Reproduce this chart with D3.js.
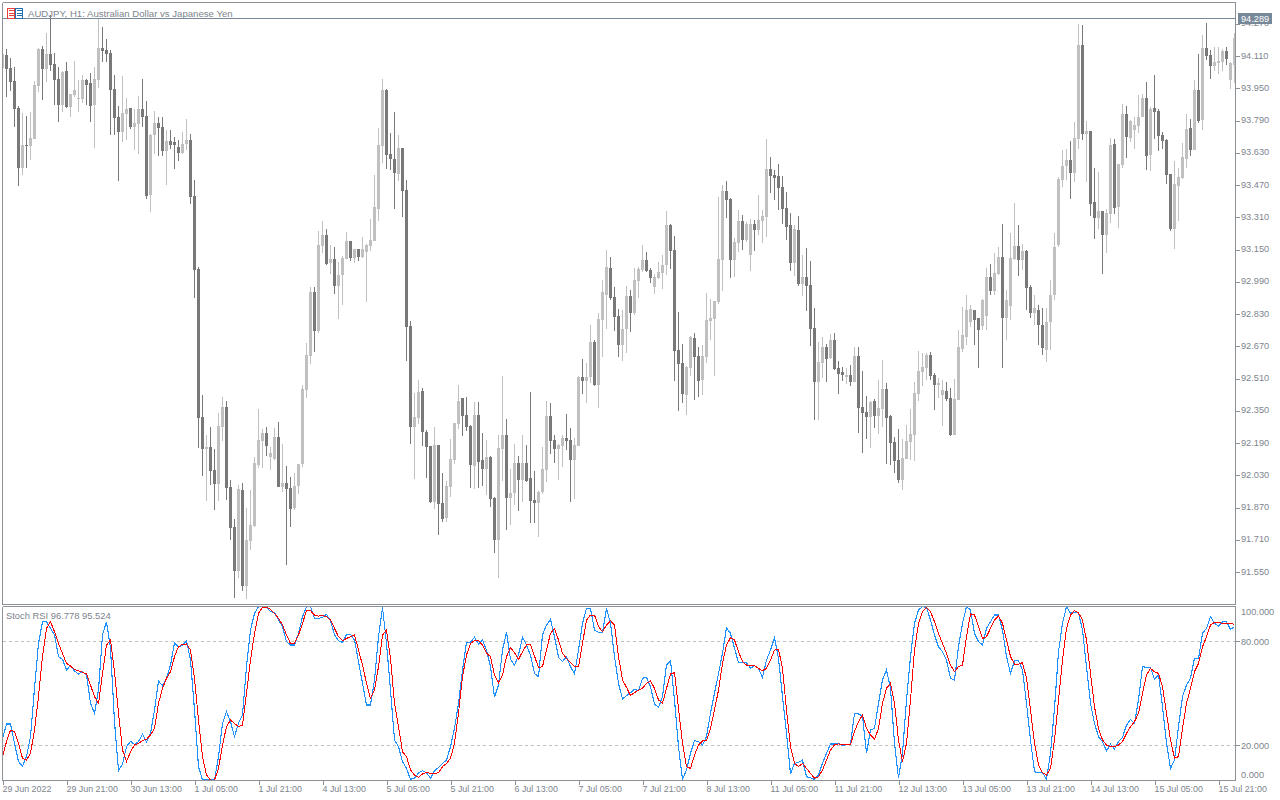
<!DOCTYPE html>
<html>
<head>
<meta charset="utf-8">
<script src="https://cdnjs.cloudflare.com/ajax/libs/d3/7.8.5/d3.min.js"></script>
<style>
html,body{margin:0;padding:0;background:#fff;}
svg{display:block;}
text{font-family:"Liberation Sans",sans-serif;font-size:9.4px;fill:#7d848c;}
</style>
</head>
<body>
<svg id="chart" width="1280" height="800"></svg>
<script>
const titleText = "AUDJPY, H1:  Australian Dollar vs Japanese Yen";
const lastPrice = 94.289;
const stochLegend = "Stoch RSI 96.778 95.524";
const priceTicks = [94.270,94.110,93.950,93.790,93.630,93.470,93.310,93.150,92.990,92.830,92.670,92.510,92.350,92.190,92.030,91.870,91.710,91.550];
const stochTicks = [80,20];
const stochEdgeLabels = [100,0];
const timeLabels = ["29 Jun 2022","29 Jun 21:00","30 Jun 13:00","1 Jul 05:00","1 Jul 21:00","4 Jul 13:00","5 Jul 05:00","5 Jul 21:00","6 Jul 13:00","7 Jul 05:00","7 Jul 21:00","8 Jul 13:00","11 Jul 05:00","11 Jul 21:00","12 Jul 13:00","13 Jul 05:00","13 Jul 21:00","14 Jul 13:00","15 Jul 05:00","15 Jul 21:00"];

const opens = [
94.051,94.115,94.051,93.986,93.852,93.555,93.669,93.664,93.699,93.961,
94.145,94.046,94.120,94.071,93.996,93.867,94.036,93.857,93.917,93.897,
93.897,93.991,93.976,93.867,93.991,94.150,94.140,94.125,93.947,93.808,
93.733,93.823,93.852,93.758,93.773,93.847,93.813,93.421,93.718,93.778,
93.758,93.639,93.689,93.684,93.659,93.629,93.674,93.694,93.416,93.054,
92.320,92.161,92.171,92.057,91.987,92.270,92.369,91.973,91.774,91.556,
91.958,91.482,91.705,91.779,92.082,92.201,92.240,92.121,92.111,92.221,
91.973,91.992,91.968,91.868,91.977,92.087,92.454,92.622,92.940,92.746,
93.168,93.222,93.084,93.103,92.970,93.024,93.103,93.193,93.108,93.153,
93.113,93.138,93.168,93.193,93.351,93.664,93.942,93.624,93.599,93.525,
93.654,93.446,92.771,92.270,92.315,92.449,92.245,92.176,91.898,92.181,
91.893,91.819,91.973,92.106,92.285,92.414,92.330,92.275,92.077,92.330,
92.106,92.062,92.121,91.918,91.710,92.161,92.230,91.918,91.943,92.092,
92.007,92.092,92.017,91.908,91.893,91.948,92.057,92.325,92.206,92.161,
92.176,92.215,92.206,92.106,92.176,92.518,92.498,92.518,92.692,92.478,
92.801,92.925,93.059,92.915,92.821,92.677,92.756,92.920,92.836,92.994,
93.049,93.098,93.049,92.965,93.009,93.034,93.074,93.272,93.148,92.652,
92.588,92.429,92.563,92.711,92.622,92.503,92.617,92.796,92.806,92.890,
93.098,93.441,93.401,93.098,93.183,93.292,93.198,93.123,93.277,93.247,
93.292,93.312,93.550,93.520,93.515,93.460,93.356,93.272,93.084,93.247,
92.979,93.014,92.974,92.761,92.493,92.588,92.667,92.612,92.702,92.563,
92.543,92.518,92.528,92.493,92.622,92.369,92.345,92.320,92.399,92.325,
92.359,92.459,92.325,92.196,92.106,92.007,92.111,92.196,92.230,92.434,
92.543,92.563,92.627,92.528,92.478,92.429,92.449,92.414,92.230,92.404,
92.657,92.716,92.791,92.850,92.811,92.771,92.821,93.014,92.945,93.029,
93.113,92.811,92.870,93.103,93.168,93.098,93.143,92.965,92.836,92.850,
92.776,92.652,92.791,92.925,93.173,93.495,93.565,93.594,93.530,93.699,
94.165,93.723,93.738,93.386,93.307,93.341,93.222,93.327,93.674,93.361,
93.570,93.823,93.704,93.743,93.763,93.808,93.902,93.619,93.852,93.837,
93.718,93.694,93.525,93.252,93.465,93.505,93.599,93.753,93.644,93.942,
93.793,94.150,94.115,94.061,94.076,94.080,94.135,93.991,94.066];

const closes = [
94.120,94.046,93.981,93.847,93.555,93.669,93.664,93.704,93.966,94.145,
94.046,94.120,94.066,93.991,93.867,94.031,93.857,93.922,93.942,93.902,
93.991,93.966,93.862,93.996,94.150,94.135,94.120,93.942,93.803,93.733,
93.828,93.847,93.758,93.778,93.847,93.808,93.416,93.718,93.778,93.753,
93.639,93.689,93.669,93.669,93.629,93.674,93.694,93.411,93.049,92.316,
92.161,92.171,92.052,91.987,92.275,92.369,91.968,91.769,91.556,91.963,
91.482,91.710,91.784,92.092,92.206,92.240,92.176,92.141,92.221,91.973,
91.992,91.963,91.863,91.977,92.087,92.459,92.627,92.940,92.746,93.173,
93.222,93.079,93.103,92.970,93.024,93.108,93.193,93.108,93.153,93.113,
93.153,93.173,93.198,93.361,93.669,93.942,93.619,93.599,93.530,93.654,
93.441,92.766,92.270,92.320,92.444,92.245,92.171,91.898,92.181,91.888,
91.814,91.977,92.111,92.290,92.399,92.325,92.270,92.082,92.330,92.097,
92.062,92.121,91.913,91.710,92.166,92.230,91.918,91.943,92.092,92.007,
92.092,92.002,91.903,91.893,91.948,92.062,92.325,92.201,92.161,92.181,
92.215,92.201,92.106,92.181,92.518,92.498,92.518,92.692,92.478,92.806,
92.940,93.064,92.910,92.816,92.677,92.756,92.920,92.836,92.999,93.054,
93.098,93.044,93.009,93.014,93.039,93.074,93.272,93.143,92.647,92.583,
92.434,92.568,92.716,92.617,92.498,92.622,92.801,92.811,92.895,93.103,
93.441,93.396,93.098,93.188,93.292,93.198,93.277,93.277,93.247,93.297,
93.317,93.550,93.515,93.505,93.455,93.351,93.262,93.084,93.252,92.979,
93.014,92.970,92.756,92.493,92.593,92.667,92.607,92.702,92.558,92.533,
92.528,92.528,92.493,92.622,92.364,92.340,92.320,92.394,92.325,92.364,
92.459,92.315,92.191,92.102,92.007,92.116,92.201,92.235,92.439,92.548,
92.568,92.627,92.523,92.478,92.488,92.454,92.409,92.230,92.409,92.667,
92.726,92.850,92.855,92.801,92.751,92.900,93.014,92.945,93.034,93.113,
92.811,92.900,93.108,93.168,93.098,93.143,92.960,92.836,92.860,92.776,
92.662,92.791,92.925,93.163,93.500,93.565,93.594,93.530,93.704,94.165,
93.723,93.738,93.376,93.307,93.341,93.222,93.332,93.669,93.356,93.575,
93.823,93.709,93.788,93.768,93.808,93.902,93.614,93.847,93.832,93.713,
93.689,93.520,93.252,93.475,93.510,93.609,93.748,93.644,93.942,93.788,
94.150,94.110,94.061,94.080,94.085,94.135,94.095,94.076,94.199];

const highs = [
94.120,94.143,94.100,94.056,93.862,93.828,93.813,93.832,93.986,94.150,
94.160,94.224,94.314,94.125,94.056,94.036,94.080,93.922,94.085,93.991,
94.016,93.996,94.026,94.056,94.297,94.254,94.195,94.140,94.016,93.862,
94.011,93.902,93.852,93.847,93.912,93.996,93.887,93.723,93.837,93.808,
93.808,93.743,93.743,93.708,93.694,93.733,93.798,93.723,93.495,93.062,
92.429,92.230,92.270,92.161,92.340,92.419,92.399,92.007,91.814,91.982,
91.992,91.868,91.958,92.121,92.359,92.260,92.270,92.171,92.265,92.295,
92.186,92.077,92.022,92.042,92.087,92.478,92.687,92.965,92.965,93.242,
93.292,93.252,93.173,93.163,93.089,93.118,93.237,93.193,93.153,93.153,
93.212,93.178,93.302,93.520,93.753,93.996,93.947,93.728,93.832,93.718,
93.654,93.495,92.796,92.439,92.503,92.464,92.255,92.176,92.270,92.181,
92.042,92.002,92.211,92.290,92.478,92.414,92.419,92.280,92.394,92.394,
92.240,92.206,92.126,91.923,92.230,92.523,92.310,92.062,92.186,92.126,
92.230,92.181,92.444,92.052,91.953,92.171,92.399,92.389,92.230,92.186,
92.230,92.335,92.265,92.215,92.523,92.607,92.588,92.776,92.702,92.836,
93.000,93.148,93.113,92.965,92.855,92.850,92.970,92.950,93.059,93.064,
93.173,93.138,93.059,93.029,93.089,93.123,93.341,93.277,93.217,92.840,
92.682,92.573,92.721,92.736,92.667,92.677,92.935,92.905,92.895,93.411,
93.470,93.490,93.406,93.208,93.346,93.322,93.287,93.302,93.297,93.421,
93.346,93.699,93.609,93.545,93.575,93.515,93.436,93.332,93.272,93.317,
93.123,93.158,93.093,92.860,92.692,92.716,92.682,92.731,92.736,92.598,
92.568,92.563,92.578,92.667,92.667,92.548,92.424,92.399,92.409,92.503,
92.602,92.488,92.330,92.221,92.260,92.211,92.280,92.359,92.493,92.647,
92.637,92.637,92.642,92.538,92.513,92.503,92.493,92.464,92.508,92.751,
92.865,92.925,92.875,92.850,92.811,92.905,93.059,93.079,93.133,93.163,
93.277,92.950,93.232,93.381,93.272,93.178,93.148,92.974,92.925,92.875,
92.860,92.860,93.000,93.232,93.510,93.644,93.649,93.689,93.783,94.269,
94.264,93.788,93.738,93.555,93.535,93.341,93.351,93.704,93.699,93.575,
93.872,93.862,93.793,93.808,93.917,93.922,93.981,93.857,94.016,93.847,
93.733,93.699,93.525,93.589,93.555,93.679,93.823,93.798,93.991,94.120,
94.214,94.274,94.140,94.155,94.155,94.145,94.155,94.080,94.224];

const lows = [
94.051,93.909,93.937,93.758,93.465,93.520,93.555,93.594,93.699,93.932,
93.892,93.981,94.036,93.867,93.783,93.832,93.852,93.808,93.907,93.832,
93.877,93.867,93.783,93.654,93.952,94.080,94.080,93.718,93.718,93.490,
93.684,93.694,93.748,93.644,93.624,93.758,93.401,93.336,93.624,93.614,
93.614,93.470,93.649,93.550,93.589,93.624,93.644,93.376,92.910,92.164,
92.027,91.903,91.982,91.859,91.903,92.201,91.908,91.710,91.422,91.521,
91.457,91.417,91.660,91.774,92.067,92.067,92.126,92.057,92.106,91.973,
91.948,91.586,91.774,91.859,91.938,92.072,92.414,92.583,92.644,92.736,
93.133,93.074,93.029,92.930,92.806,92.875,93.103,93.093,93.084,93.093,
93.108,92.890,93.143,93.193,93.292,93.580,93.550,93.545,93.351,93.490,
93.312,92.597,92.186,92.012,92.285,92.176,92.017,91.893,91.863,91.734,
91.799,91.799,91.923,92.087,92.260,92.225,92.250,91.968,91.963,91.968,
91.977,91.933,91.873,91.645,91.521,92.002,91.759,91.784,91.883,91.854,
91.898,91.997,91.794,91.794,91.725,91.938,91.997,92.136,92.092,92.007,
92.072,92.156,91.898,91.913,92.176,92.434,92.389,92.488,92.473,92.364,
92.617,92.756,92.900,92.746,92.617,92.597,92.637,92.741,92.826,92.910,
93.039,93.039,92.984,92.930,93.004,92.955,93.024,93.054,92.498,92.350,
92.389,92.330,92.523,92.404,92.419,92.429,92.588,92.702,92.523,92.880,
92.945,93.307,93.009,93.014,93.138,93.148,93.188,93.044,93.143,93.222,
93.183,93.212,93.431,93.396,93.346,93.277,93.198,93.044,93.019,92.970,
92.920,92.845,92.672,92.305,92.305,92.513,92.493,92.607,92.553,92.434,
92.498,92.483,92.473,92.493,92.240,92.141,92.211,92.166,92.265,92.235,
92.270,92.087,92.082,92.042,91.992,91.958,92.111,92.106,92.102,92.399,
92.473,92.503,92.503,92.354,92.414,92.275,92.399,92.225,92.230,92.404,
92.642,92.677,92.766,92.677,92.563,92.751,92.751,92.925,92.925,93.024,
92.563,92.702,92.801,93.098,93.019,93.049,92.850,92.811,92.776,92.677,
92.627,92.592,92.652,92.900,93.163,93.461,93.495,93.401,93.485,93.649,
93.694,93.485,93.317,93.203,93.252,93.029,93.133,93.282,93.327,93.257,
93.555,93.604,93.684,93.649,93.728,93.808,93.545,93.540,93.699,93.639,
93.649,93.475,93.242,93.153,93.292,93.500,93.555,93.614,93.644,93.778,
93.743,94.090,93.996,94.036,94.021,94.036,94.066,93.947,93.976];

const stochFast = [
24.0,32.3,32.3,21.2,10.6,8.1,13.5,25.0,52.9,78.8,
91.3,91.3,87.5,83.7,71.2,69.6,63.5,66.0,62.9,61.2,
62.5,60.6,44.2,38.5,51.9,83.7,91.3,76.0,33.7,5.4,
9.2,19.2,22.3,20.6,22.1,26.5,21.9,26.9,40.4,57.1,
54.4,58.7,66.3,79.2,76.5,77.9,80.4,69.2,40.4,7.7,
0,0,0,0,13.5,32.7,39.4,33.7,25.0,32.7,
37.5,65.4,86.5,96.2,100,100,99.6,97.1,96.7,92.3,
88.5,79.8,77.9,77.9,84.6,94.2,100,100,93.3,93.3,
93.8,95.6,91.9,83.7,80.4,79.4,84.0,84.0,80.8,68.3,
55.8,43.3,43.3,57.7,82.7,99.6,78.8,51.9,23.1,19.2,
10.6,6.7,0.4,1.0,4.2,5.4,4.2,1.0,5.4,7.1,
9.6,11.5,19.2,29.8,44.2,63.5,79.4,79.4,82.3,78.5,
80.8,75.0,65.4,47.7,54.8,75.0,85.2,69.6,66.3,72.1,
82.3,77.9,72.1,61.5,59.6,83.7,89.4,92.7,82.7,70.8,
68.3,71.2,65.4,61.2,75.0,90.4,99.0,99.0,86.5,85.2,
85.2,99.0,90.4,71.2,55.8,46.7,48.7,50.4,52.3,51.5,
58.7,59.2,53.8,43.8,41.9,48.1,66.3,68.8,46.2,19.2,
0.4,5.8,15.4,22.7,22.1,20.2,25.0,38.5,50.0,61.5,
73.1,87.9,84.6,76.0,67.7,67.7,67.7,64.4,66.0,64.4,
59.2,69.2,75.0,82.1,70.2,48.1,26.9,3.5,9.6,10.2,
11.5,1.9,1.3,0.4,2.9,9.6,15.4,20.8,20.8,21.2,
19.8,20.6,20.6,38.5,38.1,36.9,15.4,28.8,29.8,44.2,
57.7,63.5,52.9,21.2,1.0,15.4,46.2,71.2,90.4,98.1,
100,99.6,92.3,83.7,76.9,74.0,69.2,58.7,57.7,76.9,
90.4,100,98.1,84.6,79.8,77.9,87.5,91.3,95.2,95.2,
86.5,71.2,61.5,68.8,68.8,63.5,44.2,23.1,4.8,4.2,
4.2,0.4,15.4,41.3,74.0,90.4,100,96.2,96.7,96.5,
86.5,65.4,44.2,32.7,25.0,22.1,16.9,20.6,17.9,22.1,
24.6,31.7,35.0,32.7,46.2,65.4,65.0,64.8,58.1,60.6,
42.3,21.2,6.7,11.5,30.8,48.1,54.8,58.7,70.2,70.2,
84.6,87.5,94.2,90.4,88.8,91.3,91.3,86.9,88.5];

const stochSlow = [
13.5,22.1,28.8,27.9,21.2,12.5,11.5,15.4,28.8,48.1,
71.2,87.5,91.3,85.6,78.8,73.1,67.3,65.8,63.8,63.1,
62.1,61.2,54.8,48.1,44.2,61.5,77.9,80.8,62.5,38.5,
17.3,10.6,16.3,20.2,21.2,22.7,23.5,26.0,29.8,44.2,
52.9,58.7,62.5,71.2,76.9,78.3,78.5,75.0,58.7,34.6,
13.5,2.9,0,0,6.7,20.2,30.8,34.6,32.7,30.8,
31.7,50.0,69.2,84.6,96.2,99.6,99.6,98.5,96.2,93.3,
89.4,83.7,78.8,78.8,83.7,90.4,97.7,97.7,95.2,94.6,
94.8,94.2,92.3,87.5,82.7,80.4,81.7,82.7,83.7,75.0,
66.3,55.8,47.1,51.9,65.4,83.7,86.5,70.2,44.2,30.8,
16.3,13.5,5.8,2.9,1.5,3.5,4.4,3.8,3.8,4.2,
7.7,9.6,12.5,21.2,38.5,59.6,72.1,78.8,80.4,80.4,
77.9,73.1,71.2,60.6,56.2,60.6,71.2,76.5,73.5,69.6,
74.0,77.9,78.3,71.5,64.8,65.4,75.0,84.6,87.5,80.8,
73.1,70.2,67.7,65.4,65.4,78.8,92.3,95.2,95.2,88.5,
85.6,89.4,91.9,89.4,71.2,57.7,53.5,48.7,50.4,51.9,
52.9,55.8,57.1,52.9,46.2,44.2,52.9,61.2,61.9,41.3,
21.2,7.7,6.7,14.4,20.2,22.5,22.7,29.8,40.4,51.9,
67.3,77.9,82.1,80.8,74.0,68.3,66.3,66.0,66.0,64.4,
63.1,64.4,69.2,75.0,75.4,64.4,40.4,19.2,9.6,7.7,
9.6,6.7,3.8,1.0,1.9,5.8,11.5,17.3,20.2,20.8,
20.6,20.6,20.6,27.9,33.7,37.5,29.8,26.0,23.5,29.8,
44.2,52.9,55.8,44.2,23.1,10.6,21.2,46.2,75.0,90.4,
97.1,99.6,97.1,91.3,84.6,78.8,73.1,66.3,62.5,65.4,
66.3,82.7,95.8,95.2,88.5,81.7,82.7,87.5,92.3,94.6,
90.4,80.8,71.2,66.9,66.9,67.7,58.7,40.4,21.2,8.7,
4.2,2.9,6.7,23.1,46.2,69.2,87.5,95.2,97.7,96.5,
92.3,80.8,61.5,42.3,29.8,23.1,20.2,19.2,19.2,20.2,
22.1,26.9,30.8,33.7,38.5,50.0,60.6,64.4,62.5,61.5,
53.8,38.5,23.1,12.5,13.5,29.8,44.2,52.9,62.5,67.3,
76.9,82.7,89.4,91.0,90.8,90.4,90.4,90.4,89.8];

// Styling
const FRAME = "#8d9299", DARK = "#787878", LIGHT = "#c0c0c0", SLATE = "#778899", TEXT = "#7d848c";
const svg = d3.select("#chart");
const n = opens.length;

const x = d3.scaleLinear().domain([0, n - 1]).range([2.5, 2.5 + 4 * (n - 1)]);
const y = d3.scaleLinear().domain([94.388, 91.412]).range([0, 600]);
const ys = d3.scaleLinear().domain([0, 100]).range([780, 606.7]);

const defs = svg.append("defs");
defs.append("clipPath").attr("id", "mainClip").append("rect").attr("x", 3).attr("y", 3).attr("width", 1232).attr("height", 601);
defs.append("clipPath").attr("id", "subClip").append("rect").attr("x", 3).attr("y", 606).attr("width", 1232).attr("height", 175);

// Candles
const idx = d3.range(n);
const gc = svg.append("g").attr("clip-path", "url(#mainClip)").attr("shape-rendering", "crispEdges");
const color = i => closes[i] >= opens[i] ? LIGHT : DARK;
gc.selectAll("rect.wick").data(idx).join("rect").attr("class", "wick")
  .attr("x", i => x(i) - 0.5).attr("width", 1)
  .attr("y", i => Math.round(y(highs[i])))
  .attr("height", i => Math.max(1, Math.round(y(lows[i])) - Math.round(y(highs[i]))))
  .attr("fill", color);
gc.selectAll("rect.body").data(idx).join("rect").attr("class", "body")
  .attr("x", i => x(i) - 1.5).attr("width", 3)
  .attr("y", i => Math.round(y(Math.max(opens[i], closes[i]))))
  .attr("height", i => Math.max(1, Math.round(y(Math.min(opens[i], closes[i]))) - Math.round(y(Math.max(opens[i], closes[i])))))
  .attr("fill", color);

// Stoch levels and lines
svg.append("g").selectAll("line").data(stochTicks).join("line")
  .attr("x1", 3).attr("x2", 1235)
  .attr("y1", d => Math.round(ys(d)) + 0.5).attr("y2", d => Math.round(ys(d)) + 0.5)
  .attr("stroke", "#c0c0c0").attr("stroke-dasharray", "3,3");
const line = d3.line().x((d, i) => x(i)).y(d => ys(d));
const gs = svg.append("g").attr("clip-path", "url(#subClip)");
gs.append("path").datum(stochFast).attr("d", line).attr("fill", "none").attr("stroke", "#1e90ff").attr("stroke-width", 1.1).attr("shape-rendering", "crispEdges");
gs.append("path").datum(stochSlow).attr("d", line).attr("fill", "none").attr("stroke", "#ff0000").attr("stroke-width", 1).attr("shape-rendering", "crispEdges");

// Frames
const frame = (x1, y1, x2, y2, c) => svg.append("line").attr("x1", x1).attr("y1", y1).attr("x2", x2).attr("y2", y2)
  .attr("stroke", c || FRAME).attr("shape-rendering", "crispEdges");
frame(2.5, 2.5, 1235.5, 2.5);
frame(2.5, 2.5, 2.5, 604.5);
frame(1235.5, 2.5, 1235.5, 604.5);
frame(2.5, 604.5, 1235.5, 604.5);
frame(2.5, 606.5, 1235.5, 606.5);
frame(2.5, 606.5, 2.5, 780.5);
frame(1235.5, 606.5, 1235.5, 780.5);
frame(2.5, 780.5, 1235.5, 780.5);

const styleAxisText = sel => sel.attr("fill", TEXT).style("font-family", '"Liberation Sans",sans-serif');

// Price axis
const priceAxis = d3.axisRight(y).tickValues(priceTicks).tickFormat(d3.format(".3f")).tickSize(4).tickPadding(1.5);
const gp = svg.append("g").attr("transform", "translate(1235.5,0)").call(priceAxis);
gp.select(".domain").remove();
gp.selectAll("line").attr("stroke", FRAME).attr("shape-rendering", "crispEdges");
gp.selectAll("text").call(styleAxisText).style("font-size", "9.2px").attr("y", -1);

// Stoch axis
const stochAxis = d3.axisRight(ys).tickValues(stochTicks).tickFormat(d3.format(".3f")).tickSize(4).tickPadding(1.5);
const gsa = svg.append("g").attr("transform", "translate(1235.5,0)").call(stochAxis);
gsa.select(".domain").remove();
gsa.selectAll("line").attr("stroke", FRAME).attr("shape-rendering", "crispEdges");
gsa.selectAll("text").call(styleAxisText).style("font-size", "9.2px");
svg.append("g").selectAll("text").data(stochEdgeLabels).join("text")
  .attr("x", 1241).attr("y", d => d === 100 ? 614.5 : 777.5)
  .style("font-size", "9.2px")
  .text(d => d3.format(".3f")(d));

// Time axis
const timeIdx = timeLabels.map((_, i) => i * 16);
const timeAxis = d3.axisBottom(x).tickValues(timeIdx).tickFormat(d => timeLabels[d / 16]).tickSize(4).tickPadding(1.5);
const gt = svg.append("g").attr("transform", "translate(0,780.5)").call(timeAxis);
gt.select(".domain").remove();
gt.selectAll("line").attr("stroke", FRAME).attr("shape-rendering", "crispEdges");
gt.selectAll("text").attr("text-anchor", "start").attr("x", -0.5).call(styleAxisText).style("font-size", "8.9px");

// Title strip
svg.append("line").attr("x1", 3).attr("x2", 1236).attr("y1", 18.5).attr("y2", 18.5).attr("stroke", SLATE).attr("shape-rendering", "crispEdges");
const icon = svg.append("g").attr("shape-rendering", "crispEdges");
[[7.5, "#e8403a"], [15.5, "#1f6fb5"]].forEach(([ix, c]) => {
  icon.append("rect").attr("x", ix).attr("y", 8.5).attr("width", 6.5).attr("height", 9.5).attr("fill", "#fff").attr("stroke", c);
  [10.5, 13.5, 15.5].forEach(ly => icon.append("line").attr("x1", ix + 1.5).attr("x2", ix + 6).attr("y1", ly).attr("y2", ly).attr("stroke", c));
});
svg.append("text").attr("x", 28).attr("y", 17).style("font-size", "9.6px").text(titleText);
svg.append("text").attr("x", 6).attr("y", 619).text(stochLegend);

// Last price tag
svg.append("rect").attr("x", 1238).attr("y", 13).attr("width", 34).attr("height", 11).attr("fill", SLATE);
svg.append("text").attr("x", 1241).attr("y", 22).style("font-size", "9.2px").style("fill", "#ffffff").text(d3.format(".3f")(lastPrice));
</script>
</body>
</html>
